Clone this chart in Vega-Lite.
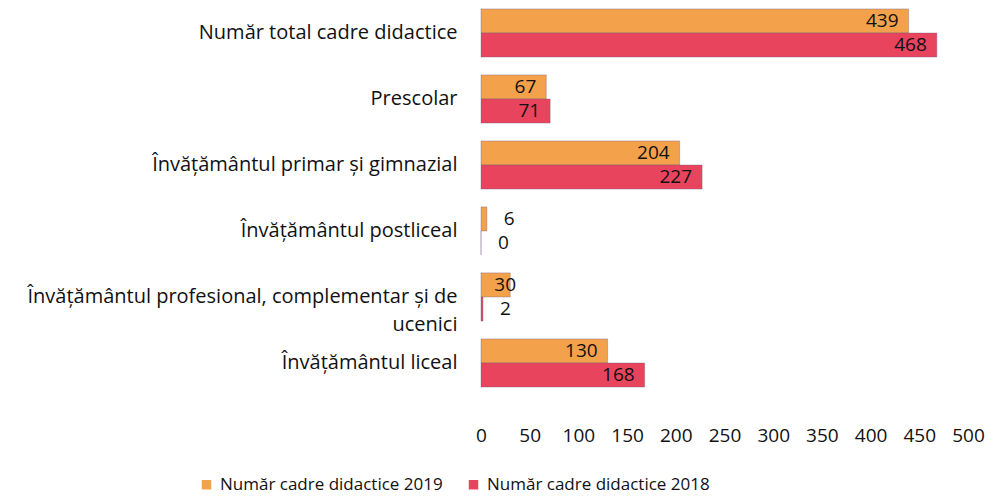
{
  "$schema": "https://vega.github.io/schema/vega-lite/v6.json",
  "width": 487,
  "height": 396,
  "padding": {"left": 0, "top": 0, "right": 5, "bottom": 5},
  "background": "white",
  "config": {"view": {"stroke": null}, "font": "Open Sans"},
  "data": {
    "values": [
      {"cat": "Număr total  cadre didactice", "year": "Număr cadre didactice 2019", "v": 439},
      {"cat": "Număr total  cadre didactice", "year": "Număr cadre didactice 2018", "v": 468},
      {"cat": "Prescolar", "year": "Număr cadre didactice 2019", "v": 67},
      {"cat": "Prescolar", "year": "Număr cadre didactice 2018", "v": 71},
      {"cat": "Învățământul primar și gimnazial", "year": "Număr cadre didactice 2019", "v": 204},
      {"cat": "Învățământul primar și gimnazial", "year": "Număr cadre didactice 2018", "v": 227},
      {"cat": "Învățământul postliceal", "year": "Număr cadre didactice 2019", "v": 6},
      {"cat": "Învățământul postliceal", "year": "Număr cadre didactice 2018", "v": 0},
      {"cat": "Învățământul profesional, complementar și de ucenici", "year": "Număr cadre didactice 2019", "v": 30},
      {"cat": "Învățământul profesional, complementar și de ucenici", "year": "Număr cadre didactice 2018", "v": 2},
      {"cat": "Învățământul liceal", "year": "Număr cadre didactice 2019", "v": 130},
      {"cat": "Învățământul liceal", "year": "Număr cadre didactice 2018", "v": 168}
    ]
  },
  "encoding": {
    "y": {
      "field": "cat", "type": "nominal", "sort": null, "title": null,
      "scale": {"paddingInner": 0.27, "paddingOuter": 0.135},
      "axis": {
        "domain": false, "ticks": false, "labelPadding": 24,
        "labelFontSize": 20, "labelColor": "#111111", "labelLimit": 600,
        "minExtent": 481, "maxExtent": 481, "labelLineHeight": 28,
        "labelExpr": "datum.label == 'Învățământul profesional, complementar și de ucenici' ? ['Învățământul profesional, complementar și de', 'ucenici\u2007\u2007\u2007\u2007\u2007\u2007\u2007\u2007\u2007\u2007\u2007\u2007\u2007\u2007\u2007\u2007\u2007'] : datum.label"
      }
    },
    "yOffset": {"field": "year", "type": "nominal", "sort": ["Număr cadre didactice 2019", "Număr cadre didactice 2018"]},
    "x": {
      "field": "v", "type": "quantitative", "title": null,
      "scale": {"domain": [0, 500], "nice": false},
      "axis": {"values": [0,50,100,150,200,250,300,350,400,450,500], "grid": false, "domain": false, "ticks": false, "labelPadding": 30, "labelFontSize": 19, "labelColor": "#111111", "labelFlush": false}
    }
  },
  "layer": [
    {
      "mark": {"type": "bar", "stroke": "#6a5a7a", "strokeWidth": 0.6, "strokeOpacity": 0.6},
      "encoding": {
        "color": {
          "field": "year", "type": "nominal",
          "scale": {"domain": ["Număr cadre didactice 2019", "Număr cadre didactice 2018"], "range": ["#F4A14C", "#E8445E"]},
          "legend": {
            "title": null, "orient": "none", "direction": "horizontal",
            "legendX": -283, "legendY": 476,
            "symbolType": "square", "symbolSize": 90, "symbolStrokeWidth": 0,
            "labelFontSize": 17, "labelColor": "#111111", "labelOffset": 5,
            "columnPadding": 22, "labelLimit": 400
          }
        }
      }
    },
    {
      "transform": [{"filter": "datum.v >= 40"}],
      "mark": {"type": "text", "align": "right", "dx": -10, "fontSize": 19, "color": "#111111", "baseline": "middle"},
      "encoding": {"text": {"field": "v", "type": "quantitative"}}
    },
    {
      "transform": [{"filter": "datum.v >= 20 && datum.v < 40"}],
      "mark": {"type": "text", "align": "center", "dx": -5, "fontSize": 19, "color": "#111111", "baseline": "middle"},
      "encoding": {"text": {"field": "v", "type": "quantitative"}}
    },
    {
      "transform": [{"filter": "datum.v < 20"}],
      "mark": {"type": "text", "align": "left", "dx": 17, "fontSize": 19, "color": "#111111", "baseline": "middle"},
      "encoding": {"text": {"field": "v", "type": "quantitative"}}
    }
  ]
}
